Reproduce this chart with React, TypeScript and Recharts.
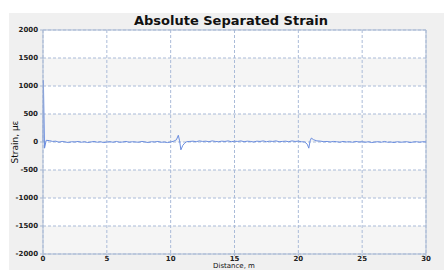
import React from "react";
import { LineChart, Line, XAxis, YAxis, CartesianGrid, ReferenceLine } from "recharts";

const distance = [
  0, 0.03, 0.12, 0.25, 0.5, 0.75, 1.0, 1.25, 1.5, 1.75, 2.0, 2.25, 2.5, 2.75, 3.0, 3.25, 3.5, 3.75,
  4.0, 4.25, 4.5, 4.75, 5.0, 5.25, 5.5, 5.75, 6.0, 6.25, 6.5, 6.75, 7.0, 7.25, 7.5, 7.75, 8.0, 8.25,
  8.5, 8.75, 9.0, 9.25, 9.5, 9.75, 10.0, 10.25, 10.45, 10.6, 10.7, 10.8, 10.95, 11.1, 11.25, 11.5,
  11.75, 12.0, 12.25, 12.5, 12.75, 13.0, 13.25, 13.5, 13.75, 14.0, 14.25, 14.5, 14.75, 15.0, 15.25,
  15.5, 15.75, 16.0, 16.25, 16.5, 16.75, 17.0, 17.25, 17.5, 17.75, 18.0, 18.25, 18.5, 18.75, 19.0,
  19.25, 19.5, 19.75, 20.0, 20.25, 20.5, 20.7, 20.82, 20.92, 21.02, 21.2, 21.45, 21.75, 22.0, 22.25,
  22.5, 22.75, 23.0, 23.25, 23.5, 23.75, 24.0, 24.25, 24.5, 24.75, 25.0, 25.25, 25.5, 25.75, 26.0,
  26.25, 26.5, 26.75, 27.0, 27.25, 27.5, 27.75, 28.0, 28.25, 28.5, 28.75, 29.0, 29.25, 29.5, 29.75, 30.0,
];

const strain = [
  0, 1100, -110, 30, 25, 10, 15, -5, 10, 0, -10, 5, 0, 10, -5, 5, -10, 0,
  10, -5, 5, -10, 0, 5, -5, 10, -5, 0, 10, -5, 5, 0, -5, 10, 0, -10,
  5, 0, 10, -5, 0, -10, 0, 15, 40, 120, 20, -140, -60, -20, 5, 10,
  15, 5, 20, 10, 15, 5, 20, 10, 5, 15, 10, 20, 5, 15, 10,
  20, 5, 15, 10, 0, 15, 10, 20, 5, 15, 10, 20, 5, 10, 15,
  5, 20, 10, 15, 5, 0, -40, -110, 20, 70, 40, 20, 15, 5, 10,
  0, 10, 5, -5, 10, 0, 5, -5, 10, 0, 5, -5, 5, -10, 0,
  5, -5, 10, -5, 0, -10, 5, -5, 0, 5, -10, 0, 5, -5, 5, 0,
];

const xTicks = [0, 5, 10, 15, 20, 25, 30];
const yTicks = [-2000, -1500, -1000, -500, 0, 500, 1000, 1500, 2000];

const data = distance.map((d, i) => ({ distance: d, strain: strain[i] }));

const tickStyle = { fontSize: 7, fill: "#222", fontFamily: "DejaVu Sans", fontWeight: "bold" as const };
const axisColor = "#a9b9d3";

export default function App() {
  return (
    <div style={{ position: "absolute", left: 0, top: 0, width: 444, height: 270, background: "#ffffff", overflow: "hidden" }}>
      <div style={{ position: "absolute", left: 9, top: 13, width: 435, height: 257, background: "#f0f0f0" }} />
      <div style={{ position: "absolute", left: 0, top: 0 }}>
        <LineChart width={444} height={270} data={data} margin={{ top: 30, right: 18, bottom: 0, left: 0 }}>
          <text x={231} y={25} textAnchor="middle" style={{ fontSize: 13, fontWeight: "bold", fontFamily: "DejaVu Sans", fill: "#111" }}>
            Absolute Separated Strain
          </text>
          <CartesianGrid
            stroke="#aabbd8"
            strokeDasharray="3 2"
            horizontalFill={["#ffffff", "#f5f5f5"]}
            fill="#ffffff"
          />
          <XAxis
            dataKey="distance"
            type="number"
            domain={[0, 30]}
            ticks={xTicks}
            height={16}
            tick={tickStyle}
            tickSize={2}
            tickMargin={0}
            stroke={axisColor}
            interval={0}
          />
          <YAxis
            type="number"
            domain={[-2000, 2000]}
            ticks={yTicks}
            width={43}
            tick={tickStyle}
            tickSize={3}
            tickMargin={2}
            stroke={axisColor}
            interval={0}
          />
          <ReferenceLine y={2000} stroke={axisColor} strokeWidth={1} />
          <ReferenceLine x={30} stroke={axisColor} strokeWidth={1} />
          <Line
            type="linear"
            dataKey="strain"
            stroke="#6a8ddf"
            strokeWidth={1}
            dot={false}
            isAnimationActive={false}
          />
          <text
            x={15}
            y={142}
            textAnchor="middle"
            transform="rotate(-90 15 142)"
            dominantBaseline="central"
            style={{ fontSize: 9, fontFamily: "DejaVu Sans", fill: "#111" }}
          >
            Strain, με
          </text>
          <text x={234} y={268} textAnchor="middle" style={{ fontSize: 7, fontFamily: "DejaVu Sans", fill: "#111" }}>
            Distance, m
          </text>
        </LineChart>
      </div>
    </div>
  );
}
